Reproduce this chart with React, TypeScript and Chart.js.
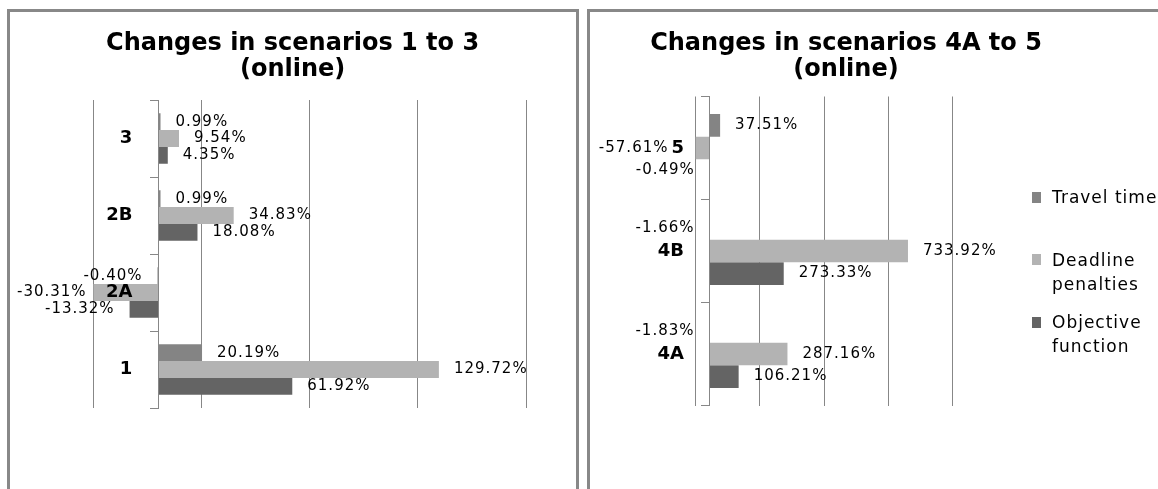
import React, { useEffect, useRef } from 'react';
import { Chart, registerables } from 'chart.js';

Chart.register(...registerables);

// ---------- data ----------
const SERIES = ['Travel time', 'Deadline penalties', 'Objective function'];
const SERIES_COLORS = ['#848484', '#b3b3b3', '#646464'];

const LEFT_TITLE = ['Changes in scenarios 1 to 3', '(online)'];
const LEFT_CATS = ['3', '2B', '2A', '1'];
const LEFT_TRAVEL = [0.99, 0.99, -0.4, 20.19];
const LEFT_DEADLINE = [9.54, 34.83, -30.31, 129.72];
const LEFT_OBJECTIVE = [4.35, 18.08, -13.32, 61.92];
const LEFT_GRID = [-30, 20, 70, 120, 170];

const RIGHT_TITLE = ['Changes in scenarios 4A to 5', '(online)'];
const RIGHT_CATS = ['5', '4B', '4A'];
const RIGHT_TRAVEL = [37.51, -1.66, -1.83];
const RIGHT_DEADLINE = [-57.61, 733.92, 287.16];
const RIGHT_OBJECTIVE = [-0.49, 273.33, 106.21];
const RIGHT_GRID = [-53, 185, 423, 661, 899];

// ---------- styles ----------
const LINE = '#878787';
const BORDER = '#888888';
const TITLE_FONT = 'DejaVu Sans';
const LABEL_FONT = '15px "DejaVu Sans"';
const CAT_FONT_CSS = 'bold 18px "DejaVu Sans"';
const TICK_LEN = 8;
const TICK_PAD = 18;

// Draws category names beside the zero axis and value labels at bar ends.
const valueLabels = {
  id: 'valueLabels',
  afterDatasetsDraw(chart: any, _args: any, opts: any) {
    const { ctx } = chart;
    const xScale = chart.scales.x;
    const yScale = chart.scales.y;
    const zeroX = xScale.getPixelForValue(0);
    const offset = opts.offset ?? 15;
    const minLeft = opts.minLeft ?? 7;
    const labels = yScale.getLabels() as string[];
    const catRight = zeroX - TICK_LEN - TICK_PAD;
    ctx.save();
    ctx.fillStyle = '#000';
    ctx.textBaseline = 'middle';

    // value labels
    ctx.textAlign = 'left';
    chart.data.datasets.forEach((ds: any, di: number) => {
      const meta = chart.getDatasetMeta(di);
      meta.data.forEach((bar: any, i: number) => {
        const v = ds.data[i] as number;
        const txt = v.toFixed(2) + '%';
        ctx.font = LABEL_FONT;
        (ctx as any).letterSpacing = '1px';
        const w = ctx.measureText(txt).width;
        const endX = xScale.getPixelForValue(v);
        let left: number;
        if (v >= 0) {
          left = endX + offset;
        } else {
          let right = endX - offset;
          if (di === 1) {
            ctx.save();
            ctx.font = CAT_FONT_CSS;
            (ctx as any).letterSpacing = '0px';
            const cw = ctx.measureText(labels[i]).width;
            ctx.restore();
            right = Math.min(right, catRight - cw - 3);
          }
          left = Math.max(right - w, minLeft);
        }
        ctx.fillText(txt, left, bar.y);
      });
    });

    // category labels
    ctx.font = CAT_FONT_CSS;
    (ctx as any).letterSpacing = '0px';
    ctx.textAlign = 'right';
    labels.forEach((lab, i) => {
      ctx.fillText(lab, catRight, yScale.getPixelForValue(i));
    });
    ctx.restore();
  },
};

function phantom(position: 'left' | 'right', width: number) {
  return {
    type: 'linear',
    axis: 'y',
    position,
    display: true,
    grid: { display: false, drawTicks: false },
    border: { display: false },
    ticks: { display: false },
    afterFit: (s: any) => {
      s.width = width;
    },
  };
}

interface PanelCfg {
  title: string[];
  cats: string[];
  values: number[][];
  grid: number[];
  padRight: number;
  padBottom: number;
  leftSpace: number;
  rightSpace: number;
  titleGap: number;
}

function buildConfig(p: PanelCfg): any {
  return {
    type: 'bar',
    data: {
      labels: p.cats,
      datasets: p.values.map((vals, i) => ({
        label: SERIES[i],
        data: vals,
        backgroundColor: SERIES_COLORS[i],
        borderWidth: 0,
        categoryPercentage: 0.658,
        barPercentage: 1,
        xAxisID: 'x',
        yAxisID: 'y',
      })),
    },
    options: {
      indexAxis: 'y',
      responsive: false,
      maintainAspectRatio: false,
      devicePixelRatio: 1,
      animation: false,
      layout: { padding: { left: 0, right: p.padRight, top: 0, bottom: p.padBottom } },
      plugins: {
        legend: { display: false },
        tooltip: { enabled: false },
        title: {
          display: true,
          text: p.title,
          color: '#000',
          font: { family: TITLE_FONT, size: 24, weight: 'bold', lineHeight: 26 / 24 },
          padding: { top: 19, bottom: p.titleGap },
        },
        valueLabels: { offset: 15, minLeft: 7 },
      },
      scales: {
        x: {
          type: 'linear',
          min: p.grid[0],
          max: p.grid[p.grid.length - 1],
          afterBuildTicks: (s: any) => {
            s.ticks = p.grid.map((v) => ({ value: v }));
          },
          ticks: { display: false },
          grid: { color: LINE, lineWidth: 1, drawTicks: false },
          border: { display: false },
        },
        y: {
          type: 'category',
          position: { x: 0 },
          offset: true,
          grid: {
            display: true,
            drawOnChartArea: false,
            drawTicks: true,
            tickLength: TICK_LEN,
            color: LINE,
            lineWidth: 1,
            offset: true,
          },
          border: { display: true, color: LINE, width: 1, z: 1 },
          ticks: { display: false },
        },
        padL: phantom('left', p.leftSpace),
        padR: phantom('right', p.rightSpace),
      },
    },
    plugins: [valueLabels],
  };
}

function BarCanvas({ cfg, x, y, w, h }: { cfg: PanelCfg; x: number; y: number; w: number; h: number }) {
  const ref = useRef<HTMLCanvasElement>(null);
  useEffect(() => {
    const chart = new Chart(ref.current as HTMLCanvasElement, buildConfig(cfg));
    return () => chart.destroy();
  }, []);
  return (
    <canvas
      ref={ref}
      width={w}
      height={h}
      style={{ position: 'absolute', left: x, top: y, width: w, height: h, display: 'block' }}
    />
  );
}

const LEFT_CFG: PanelCfg = {
  title: LEFT_TITLE,
  cats: LEFT_CATS,
  values: [LEFT_TRAVEL, LEFT_DEADLINE, LEFT_OBJECTIVE],
  grid: LEFT_GRID,
  padRight: 0.8,
  padBottom: 81,
  leftSpace: 83.5,
  rightSpace: 49.2,
  titleGap: 17,
};

const RIGHT_CFG: PanelCfg = {
  title: RIGHT_TITLE,
  cats: RIGHT_CATS,
  values: [RIGHT_TRAVEL, RIGHT_DEADLINE, RIGHT_OBJECTIVE],
  grid: RIGHT_GRID,
  padRight: 56,
  padBottom: 83.5,
  leftSpace: 105.7,
  rightSpace: 149.5,
  titleGap: 13.5,
};

function Legend() {
  const base = 197;
  const step = 62.5;
  return (
    <>
      {SERIES.map((name, i) => {
        const cy = base + i * step;
        return (
          <React.Fragment key={name}>
            <div
              style={{
                position: 'absolute',
                left: 1032,
                top: cy - 5.5,
                width: 9,
                height: 11,
                background: SERIES_COLORS[i],
              }}
            />
            <div
              style={{
                position: 'absolute',
                left: 1052,
                top: cy - 12,
                width: 112,
                font: '17px "DejaVu Sans"',
                letterSpacing: '1px',
                lineHeight: '24.3px',
                color: '#000',
              }}
            >
              {name}
            </div>
          </React.Fragment>
        );
      })}
    </>
  );
}

export default function App() {
  return (
    <div
      style={{
        position: 'absolute',
        left: 0,
        top: 0,
        width: 1158,
        height: 489,
        overflow: 'hidden',
        background: '#fff',
      }}
    >
      <div
        style={{
          position: 'absolute',
          left: 7,
          top: 9,
          width: 566,
          height: 520,
          border: `3px solid ${BORDER}`,
        }}
      />
      <div
        style={{
          position: 'absolute',
          left: 587,
          top: 9,
          width: 620,
          height: 520,
          border: `3px solid ${BORDER}`,
        }}
      />
      <BarCanvas cfg={LEFT_CFG} x={10} y={12} w={566} h={477} />
      <BarCanvas cfg={RIGHT_CFG} x={590} y={12} w={568} h={477} />
      <Legend />
    </div>
  );
}
